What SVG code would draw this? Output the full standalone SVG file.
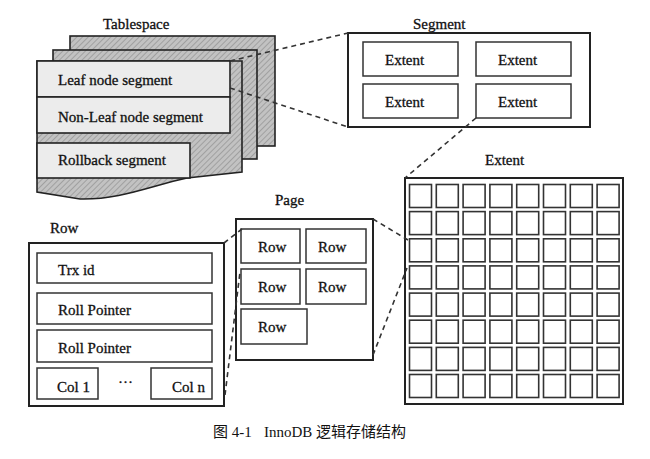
<svg xmlns="http://www.w3.org/2000/svg" width="650" height="459" viewBox="0 0 650 459">
<defs>
<pattern id="hatch" width="4" height="4" patternUnits="userSpaceOnUse" patternTransform="rotate(45)">
<rect width="4" height="4" fill="#c2c2c2"/>
<line x1="0" y1="0" x2="0" y2="4" stroke="#979797" stroke-width="1.6"/>
</pattern>
<rect id="c" class="cell" width="22" height="23"/>
<g id="crow">
<use href="#c" x="409.5"/><use href="#c" x="436.3"/><use href="#c" x="463.1"/><use href="#c" x="489.9"/>
<use href="#c" x="516.7"/><use href="#c" x="543.5"/><use href="#c" x="570.3"/><use href="#c" x="597.1"/>
</g>
<style>
text{font-family:"Liberation Serif","Times New Roman",serif;font-size:15px;fill:#111;stroke:#111;stroke-width:0.3}
.cap{font-family:"Liberation Serif","Noto Sans CJK SC",serif;font-size:15px;stroke:none}
.sheet{fill:url(#hatch);stroke:#222;stroke-width:1.6}
.light{fill:#ececec;stroke:#222;stroke-width:1.6}
.box{fill:#fff;stroke:#222;stroke-width:2}
.ibox{fill:#fff;stroke:#333;stroke-width:1.5}
.cell{fill:#fff;stroke:#333;stroke-width:1.6}
.dash{fill:none;stroke:#333;stroke-width:1.6;stroke-dasharray:5 4}
</style>
</defs>
<rect width="650" height="459" fill="#fff"/>

<g id="tablespace">
<text x="103" y="29">Tablespace</text>
<rect class="sheet" x="70" y="36" width="205" height="110"/>
<rect class="sheet" x="53" y="50" width="204" height="109"/>
<path class="sheet" d="M37,61 H242 V172 L187,178 C150,186 120,200 80,199 L37,192 Z"/>
<rect class="light" x="37" y="61" width="193" height="36"/>
<text x="58" y="85">Leaf node segment</text>
<rect class="light" x="37" y="97" width="193" height="36"/>
<text x="58" y="122">Non-Leaf node segment</text>
<rect class="light" x="37" y="143" width="153" height="35"/>
<text x="58" y="165">Rollback segment</text>
</g>

<g id="segment">
<text x="413" y="29">Segment</text>
<rect class="box" x="348" y="33" width="242" height="94"/>
<rect class="ibox" x="363" y="42" width="95" height="34"/>
<rect class="ibox" x="476" y="42" width="95" height="34"/>
<rect class="ibox" x="363" y="84" width="95" height="34"/>
<rect class="ibox" x="476" y="84" width="95" height="34"/>
<text x="385" y="65">Extent</text>
<text x="498" y="65">Extent</text>
<text x="385" y="107">Extent</text>
<text x="498" y="107">Extent</text>
</g>

<g id="extent">
<text x="485" y="165">Extent</text>
<rect class="box" x="405" y="178" width="218" height="226"/>
<use href="#crow" y="184.5"/>
<use href="#crow" y="211.6"/>
<use href="#crow" y="238.8"/>
<use href="#crow" y="265.9"/>
<use href="#crow" y="293.1"/>
<use href="#crow" y="320.2"/>
<use href="#crow" y="347.4"/>
<use href="#crow" y="374.5"/>
</g>

<g id="page">
<text x="275" y="205">Page</text>
<rect class="box" x="236" y="219" width="137" height="141"/>
<rect class="ibox" x="241" y="229" width="59" height="34"/>
<rect class="ibox" x="306" y="229" width="60" height="34"/>
<rect class="ibox" x="241" y="269" width="59" height="35"/>
<rect class="ibox" x="306" y="269" width="60" height="35"/>
<rect class="ibox" x="241" y="309" width="66" height="35"/>
<text x="258" y="252">Row</text>
<text x="318" y="252">Row</text>
<text x="258" y="292">Row</text>
<text x="318" y="292">Row</text>
<text x="258" y="332">Row</text>
</g>

<g id="row">
<text x="50" y="233">Row</text>
<rect class="box" x="29" y="243" width="195" height="163"/>
<rect class="ibox" x="37" y="253" width="175" height="30"/>
<rect class="ibox" x="37" y="293" width="175" height="31"/>
<rect class="ibox" x="37" y="330" width="175" height="32"/>
<rect class="ibox" x="37" y="368" width="61" height="31"/>
<rect class="ibox" x="151" y="368" width="61" height="31"/>
<text x="58" y="275">Trx id</text>
<text x="58" y="315">Roll Pointer</text>
<text x="58" y="353">Roll Pointer</text>
<text x="57" y="392">Col 1</text>
<text x="118" y="387">···</text>
<text x="172" y="392">Col n</text>
</g>

<g id="connectors">
<line class="dash" x1="230" y1="61" x2="348" y2="33"/>
<line class="dash" x1="230" y1="88" x2="348" y2="127"/>
<line class="dash" x1="476" y1="118" x2="405" y2="178"/>
<line class="dash" x1="373" y1="219" x2="408" y2="240"/>
<line class="dash" x1="373" y1="355" x2="407" y2="268"/>
<line class="dash" x1="224" y1="243" x2="242" y2="229"/>
<line class="dash" x1="225" y1="395" x2="240" y2="272"/>
</g>

<text class="cap" x="213" y="437">图 4-1<tspan x="264">InnoDB 逻辑存储结构</tspan></text>
</svg>
